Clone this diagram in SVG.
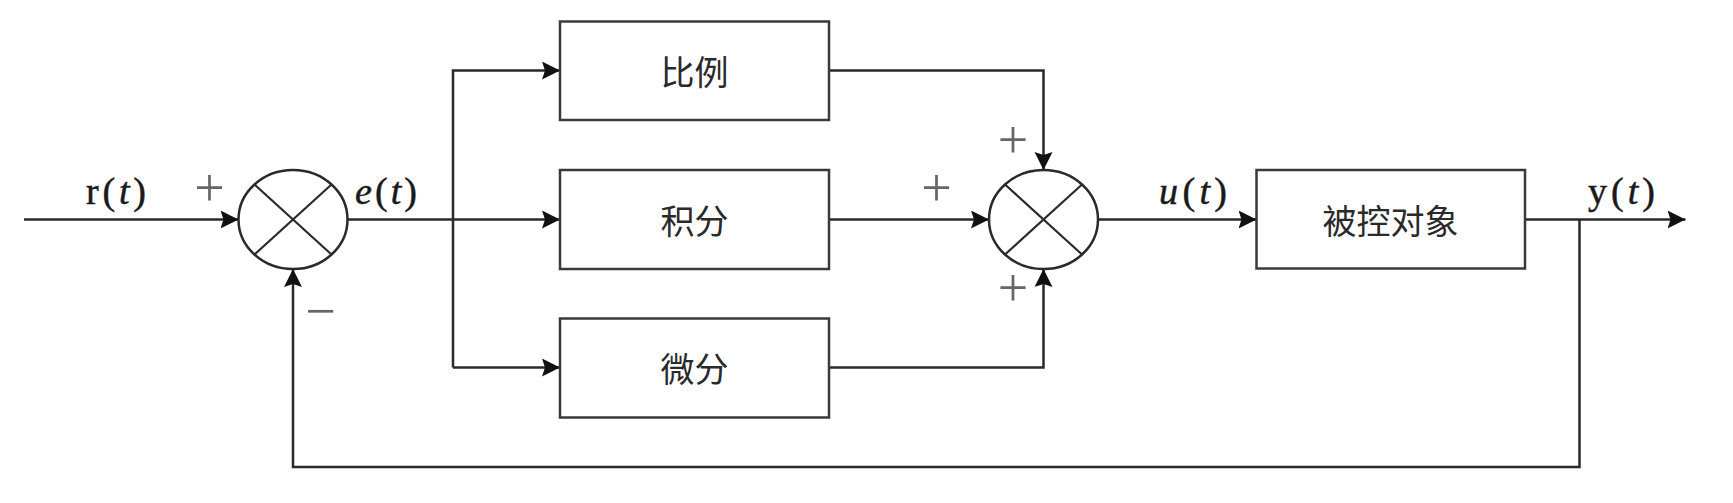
<svg xmlns="http://www.w3.org/2000/svg" width="1733" height="503" viewBox="0 0 1733 503">
<style>
.box{fill:#fff;stroke:#3a3a3a;stroke-width:2.5}
.sum{fill:#fff;stroke:#2a2a2a;stroke-width:2.5}
.x{stroke:#2a2a2a;stroke-width:2.2}
.ln{fill:none;stroke:#2a2a2a;stroke-width:2.5}
.cjk{font-family:"Noto Sans CJK SC","Noto Sans CJK JP",sans-serif;font-size:34px;fill:#2a2a2a;text-anchor:middle;dominant-baseline:central}
.math{font-family:"Liberation Serif","Times New Roman",serif;font-size:38px;fill:#1a1a1a;stroke:#1a1a1a;stroke-width:0.5}
.sign{font-family:"Liberation Serif","Times New Roman",serif;font-size:54px;fill:#666;text-anchor:middle}
.it{font-style:italic}
</style>
<defs>
<marker id="arr" markerUnits="userSpaceOnUse" markerWidth="20" markerHeight="20" refX="18" refY="9" orient="auto">
<path d="M0,0 L18,9 L0,18 L3,9 z" fill="#111"/>
</marker>
</defs>
<g id="connectors">
<line class="ln" x1="24" y1="219.5" x2="238.5" y2="219.5" marker-end="url(#arr)"/>
<line class="ln" x1="347.5" y1="219.5" x2="560" y2="219.5" marker-end="url(#arr)"/>
<polyline class="ln" points="453,367.5 453,70.5 560,70.5" marker-end="url(#arr)"/>
<polyline class="ln" points="453,367.5 560,367.5" marker-end="url(#arr)"/>
<polyline class="ln" points="829,70.5 1043.5,70.5 1043.5,170" marker-end="url(#arr)"/>
<line class="ln" x1="829" y1="219.5" x2="989" y2="219.5" marker-end="url(#arr)"/>
<polyline class="ln" points="829,367.5 1043.5,367.5 1043.5,269" marker-end="url(#arr)"/>
<line class="ln" x1="1098" y1="219.5" x2="1256.5" y2="219.5" marker-end="url(#arr)"/>
<line class="ln" x1="1525" y1="219.5" x2="1685.5" y2="219.5" marker-end="url(#arr)"/>
<polyline class="ln" points="1579.5,219.5 1579.5,467 293,467 293,269" marker-end="url(#arr)"/>
</g>
<g id="sum1">
<ellipse class="sum" cx="293" cy="219.5" rx="54.5" ry="49.5"/>
<line class="x" x1="254.5" y1="184.5" x2="331.5" y2="254.5"/>
<line class="x" x1="331.5" y1="184.5" x2="254.5" y2="254.5"/>
</g>
<g id="sum2">
<ellipse class="sum" cx="1043.5" cy="219.5" rx="54.5" ry="49.5"/>
<line class="x" x1="1005" y1="184.5" x2="1082" y2="254.5"/>
<line class="x" x1="1082" y1="184.5" x2="1005" y2="254.5"/>
</g>
<g id="p">
<rect class="box" x="560" y="21.5" width="269" height="98.5"/>
<text class="cjk" x="694.5" y="70">比例</text>
</g>
<g id="i">
<rect class="box" x="560" y="170" width="269" height="99"/>
<text class="cjk" x="694.5" y="219">积分</text>
</g>
<g id="d">
<rect class="box" x="560" y="318.5" width="269" height="99"/>
<text class="cjk" x="694.5" y="367.5">微分</text>
</g>
<g id="plant">
<rect class="box" x="1256.5" y="170" width="268.5" height="98.5"/>
<text class="cjk" x="1390.5" y="219">被控对象</text>
</g>
<g id="labels">
<text class="math" x="86" y="203.5" textLength="60" lengthAdjust="spacing">r(<tspan class="it">t</tspan>)</text>
<text class="math" x="355" y="203.5" textLength="62" lengthAdjust="spacing"><tspan class="it">e</tspan>(<tspan class="it">t</tspan>)</text>
<text class="math" x="1159" y="203.5" textLength="68" lengthAdjust="spacing"><tspan class="it">u</tspan>(<tspan class="it">t</tspan>)</text>
<text class="math" x="1588" y="203.5" textLength="67" lengthAdjust="spacing">y(<tspan class="it">t</tspan>)</text>
<text class="sign" x="209.5" y="205.5">+</text>
<text class="sign" x="320.5" y="329">−</text>
<text class="sign" x="1013" y="157.5">+</text>
<text class="sign" x="936.5" y="206">+</text>
<text class="sign" x="1013" y="306">+</text>
</g>
</svg>
